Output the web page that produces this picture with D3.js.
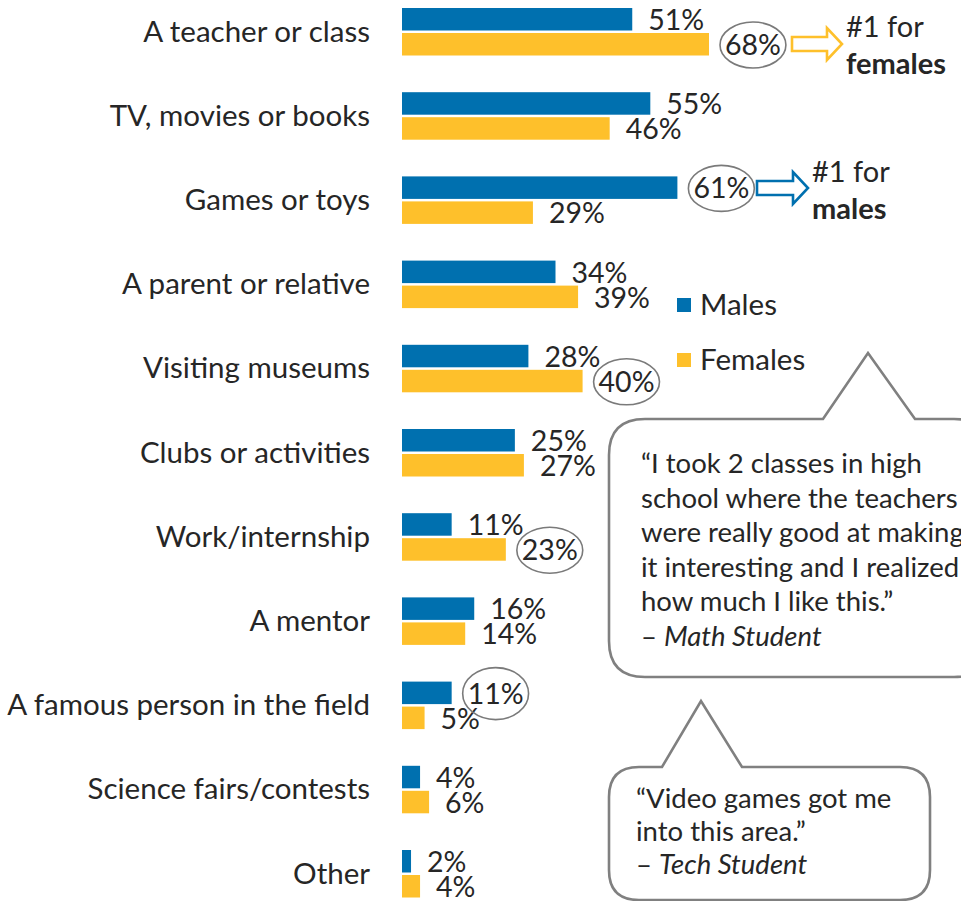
<!DOCTYPE html>
<html><head><meta charset="utf-8">
<script src="https://cdn.jsdelivr.net/npm/d3@7"></script>
<style>
html,body{margin:0;padding:0;background:#fff;overflow:hidden}
svg{display:block;font-family:Lato,"Open Sans",sans-serif}
</style></head>
<body>
<svg id="c" width="961" height="901"></svg>
<script>
const categories = ["A teacher or class","TV, movies or books","Games or toys","A parent or relative","Visiting museums","Clubs or activities","Work/internship","A mentor","A famous person in the field","Science fairs/contests","Other"];
const males   = [51,55,61,34,28,25,11,16,11,4,2];
const females = [68,46,29,39,40,27,23,14,5,6,4];
const seriesNames = ["Males","Females"];
const colors = ["#0070AF","#FEC02B"];
// circled labels: [categoryIndex, series (0 male, 1 female)]
const circled = [[0,1],[2,0],[4,1],[6,1],[8,0]];
const quote1 = ["\u201cI took 2 classes in high","school where the teachers","were really good at making","it interesting and I realized","how much I like this.\u201d"];
const quote1By = "Math Student";
const quote2 = ["\u201cVideo games got me","into this area.\u201d"];
const quote2By = "Tech Student";

const svg = d3.select("#c");
const x = d3.scaleLinear().domain([0,68]).range([402,709]);
const y = d3.scalePoint().domain(categories).range([32,874]);
const textCol = "#262626";
const barH = 22.5;

// category labels
svg.append("g").selectAll("text").data(categories).join("text")
  .attr("x",370).attr("y",d=>y(d)+9.5).attr("text-anchor","end")
  .attr("font-size",29.5).attr("fill",textCol).text(d=>d);

const series = [males, females];
const labelPos = [];
const labY = (s,i)=> s===0 ? y(categories[i])-2 : y(categories[i])+23;
series.forEach((vals,s)=>{
  const g = svg.append("g");
  g.selectAll("rect").data(vals).join("rect")
    .attr("x",x(0))
    .attr("y",(d,i)=> s===0 ? y(categories[i])-barH-1.5 : y(categories[i])+1)
    .attr("width",d=>x(d)-x(0))
    .attr("height",barH)
    .attr("fill",colors[s]);
  g.selectAll("text").data(vals).join("text")
    .attr("x",d=>x(d)+16)
    .attr("y",(d,i)=> labY(s,i))
    .attr("font-size",28.5).attr("fill",textCol)
    .text(d=>d+"%")
    .each(function(d,i){ labelPos.push({s,i,node:this}); });
});

// ellipses around highlighted labels
circled.forEach(([i,s])=>{
  const p = labelPos.find(q=>q.i===i && q.s===s);
  const bb = p.node.getBBox();
  const cx = bb.x + bb.width/2;
  const cy = labY(s,i) - 10;
  svg.append("ellipse").attr("cx",cx).attr("cy",cy)
    .attr("rx",bb.width/2+5).attr("ry",i===8?26:23)
    .attr("fill","none").attr("stroke","#7a7a7a").attr("stroke-width",1.6);
});

// hollow arrows
function arrow(x0,cy,len,color){
  const shaftH=7, headH=16, headL=15;
  const x1=x0+len-headL, x2=x0+len;
  const pts=[[x0,cy-shaftH],[x1,cy-shaftH],[x1,cy-headH],[x2,cy],[x1,cy+headH],[x1,cy+shaftH],[x0,cy+shaftH]];
  svg.append("path").attr("d",d3.line()(pts)+"Z")
    .attr("fill","#fff").attr("stroke",color).attr("stroke-width",2.6).attr("stroke-linejoin","miter");
}
arrow(792,44,50,colors[1]);
arrow(757,188,51,colors[0]);
const n1 = svg.append("text").attr("font-size",29).attr("fill",textCol);
n1.append("tspan").attr("x",846).attr("y",37).text("#1 for");
n1.append("tspan").attr("x",846).attr("y",74).attr("font-weight","bold").text("females");
const n2 = svg.append("text").attr("font-size",29).attr("fill",textCol);
n2.append("tspan").attr("x",812).attr("y",182).text("#1 for");
n2.append("tspan").attr("x",812).attr("y",219).attr("font-weight","bold").text("males");

// legend
const leg = svg.append("g");
seriesNames.forEach((nm,k)=>{
  const ly = 305 + k*55;
  leg.append("rect").attr("x",677).attr("y",ly-7).attr("width",14).attr("height",14).attr("fill",colors[k]);
  leg.append("text").attr("x",700).attr("y",ly+10).attr("font-size",29.5).attr("fill",textCol).text(nm);
});

// speech bubbles
function bubble(L,T,R,B,r,t1,tip,t2){
  const p = d3.path();
  p.moveTo(L+r,T);
  p.lineTo(t1,T); p.lineTo(tip[0],tip[1]); p.lineTo(t2,T);
  p.lineTo(R-r,T); p.quadraticCurveTo(R,T,R,T+r);
  p.lineTo(R,B-r); p.quadraticCurveTo(R,B,R-r,B);
  p.lineTo(L+r,B); p.quadraticCurveTo(L,B,L,B-r);
  p.lineTo(L,T+r); p.quadraticCurveTo(L,T,L+r,T);
  p.closePath();
  svg.append("path").attr("d",p.toString()).attr("fill","#fff")
    .attr("stroke","#808080").attr("stroke-width",2.6);
}
bubble(609,419,990,677,36,823,[868,353],915);
bubble(609,767,930,900,30,662,[701,701],742);

const q1 = svg.append("g").attr("font-size",27.5).attr("fill",textCol);
quote1.forEach((l,k)=> q1.append("text").attr("x",641).attr("y",473+k*34.5).text(l));
const by1 = q1.append("text").attr("x",641).attr("y",473+5*34.5);
by1.append("tspan").text("\u2013  ");
by1.append("tspan").attr("font-style","italic").text(quote1By);

const q2 = svg.append("g").attr("font-size",27.5).attr("fill",textCol);
quote2.forEach((l,k)=> q2.append("text").attr("x",636).attr("y",808+k*33).text(l));
const by2 = q2.append("text").attr("x",636).attr("y",808+2*33);
by2.append("tspan").text("\u2013 ");
by2.append("tspan").attr("font-style","italic").text(quote2By);
</script>
</body></html>
